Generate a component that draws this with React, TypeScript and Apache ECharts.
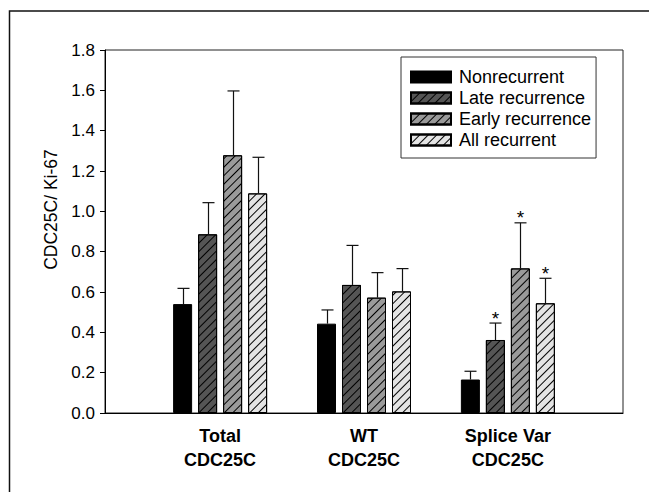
import React, { useEffect, useRef } from "react";
import * as echarts from "echarts";

// ---- data ----
const categories = ["Total\nCDC25C", "WT\nCDC25C", "Splice Var\nCDC25C"];
const categoryPositions = [0, 1, 2];
const seriesNames = ["Nonrecurrent", "Late recurrence", "Early recurrence", "All recurrent"];
const nonrecurrent = [0.54, 0.443, 0.166];
const lateRecurrence = [0.886, 0.635, 0.362];
const earlyRecurrence = [1.278, 0.572, 0.717];
const allRecurrent = [1.089, 0.603, 0.544];
const nonrecurrentErrTop = [0.618, 0.511, 0.207];
const lateRecurrenceErrTop = [1.043, 0.831, 0.446];
const earlyRecurrenceErrTop = [1.597, 0.696, 0.943];
const allRecurrentErrTop = [1.268, 0.716, 0.668];
const nonrecurrentSig = [false, false, false];
const lateRecurrenceSig = [false, false, true];
const earlyRecurrenceSig = [false, false, true];
const allRecurrentSig = [false, false, true];
const yMin = 0;
const yMax = 1.8;
const yInterval = 0.2;
const yAxisName = "CDC25C/ Ki-67";

const FONT = "Liberation Sans, Arial, Helvetica, sans-serif";
const BAR_W = 19;
const BAR_GAP = 6;

export default function App() {
  const ref = useRef<HTMLDivElement>(null);
  useEffect(() => {
    document.body.style.margin = "0";
    const chart = echarts.init(ref.current!, null, { renderer: "svg" });

    const values = [nonrecurrent, lateRecurrence, earlyRecurrence, allRecurrent];
    const errTops = [nonrecurrentErrTop, lateRecurrenceErrTop, earlyRecurrenceErrTop, allRecurrentErrTop];
    const sigs = [nonrecurrentSig, lateRecurrenceSig, earlyRecurrenceSig, allRecurrentSig];
    const fills = ["#000000", "#555555", "#9a9a9a", "#e4e4e4"];
    const hatched = [false, true, true, true];

    const barSeries = seriesNames.map((name, i) => ({
      type: "bar",
      name,
      data: categoryPositions.map((x, j) => [x, values[i][j]]),
      barWidth: BAR_W,
      barGap: (BAR_GAP / BAR_W) * 100 + "%",
      itemStyle: {
        color: fills[i],
        borderColor: "#000",
        borderWidth: 1,
        decal: hatched[i]
          ? {
              symbol: "rect",
              symbolSize: 1,
              color: "#000",
              dashArrayX: [1, 0],
              dashArrayY: [1, 5],
              rotation: -Math.PI / 4,
            }
          : undefined,
      },
      z: 2,
    }));

    const errSeries = seriesNames.map((name, i) => ({
      type: "custom",
      name: name + " error",
      data: categoryPositions.map((x, j) => [x, values[i][j], errTops[i][j], sigs[i][j] ? 1 : 0]),
      encode: { x: 0, y: [1, 2] },
      z: 5,
      silent: true,
      renderItem: (params: any, api: any) => {
        const off = (i - 1.5) * (BAR_W + BAR_GAP);
        const base = api.coord([api.value(0), api.value(1)]);
        const top = api.coord([api.value(0), api.value(2)]);
        const cx = Math.round(base[0] + off) + 0.5;
        const children: any[] = [
          {
            type: "line",
            shape: { x1: cx, y1: base[1], x2: cx, y2: top[1] },
            style: { stroke: "#111", lineWidth: 1.2 },
          },
          {
            type: "line",
            shape: { x1: cx - 6, y1: top[1], x2: cx + 6, y2: top[1] },
            style: { stroke: "#111", lineWidth: 1.2 },
          },
        ];
        if (api.value(3) === 1) {
          children.push({
            type: "text",
            style: {
              x: cx,
              y: top[1] - 5,
              text: "*",
              fontSize: 19,
              fontFamily: FONT,
              fill: "#000",
              align: "center",
              verticalAlign: "middle",
            },
          });
        }
        return { type: "group", children };
      },
    }));

    chart.setOption({
      animation: false,
      backgroundColor: "#fff",
      grid: {
        left: 105,
        right: 26,
        top: 50,
        bottom: 79,
        show: true,
        borderColor: "#222",
        borderWidth: 1,
        backgroundColor: "transparent",
      },
      legend: {
        data: seriesNames,
        orient: "vertical",
        left: 401,
        top: 57,
        padding: [11, 5, 9, 9],
        itemGap: 3,
        itemWidth: 40,
        itemHeight: 11,
        icon: "rect",
        borderColor: "#333",
        borderWidth: 1,
        backgroundColor: "#fff",
        textStyle: { fontSize: 18, color: "#000", fontFamily: FONT, padding: [0, 0, 0, 3] },
      },
      xAxis: {
        type: "value",
        min: -0.8,
        max: 2.8,
        splitLine: { show: false },
        axisTick: { show: false },
        axisLine: { show: true, onZero: false, lineStyle: { color: "#000", width: 1 } },
        axisLabel: {
          customValues: categoryPositions,
          formatter: (v: number) => categories[Math.round(v)] ?? "",
          fontSize: 18,
          fontWeight: "bold",
          fontFamily: FONT,
          color: "#000",
          lineHeight: 24,
          margin: 11,
        },
      },
      yAxis: {
        type: "value",
        min: yMin,
        max: yMax,
        interval: yInterval,
        name: yAxisName,
        nameLocation: "middle",
        nameGap: 44,
        nameTextStyle: { fontSize: 17.5, fontFamily: FONT, color: "#000", padding: [0, 0, 0, 44] },
        splitLine: { show: false },
        axisLine: { show: true, onZero: false, lineStyle: { color: "#000", width: 1 } },
        axisTick: { show: true, inside: false, length: 5, lineStyle: { color: "#000" } },
        axisLabel: {
          fontSize: 17,
          fontFamily: FONT,
          color: "#000",
          margin: 10,
          formatter: (v: number) => v.toFixed(1),
        },
      },
      graphic: [
        {
          type: "rect",
          silent: true,
          shape: { x: 9.5, y: 11, width: 900, height: 900 },
          style: { fill: "none", stroke: "#111", lineWidth: 1.5 },
        },
      ],
      series: [...barSeries, ...errSeries],
    });
    return () => chart.dispose();
  }, []);
  return <div ref={ref} style={{ position: "fixed", left: 0, top: 0, width: 649, height: 492 }} />;
}
